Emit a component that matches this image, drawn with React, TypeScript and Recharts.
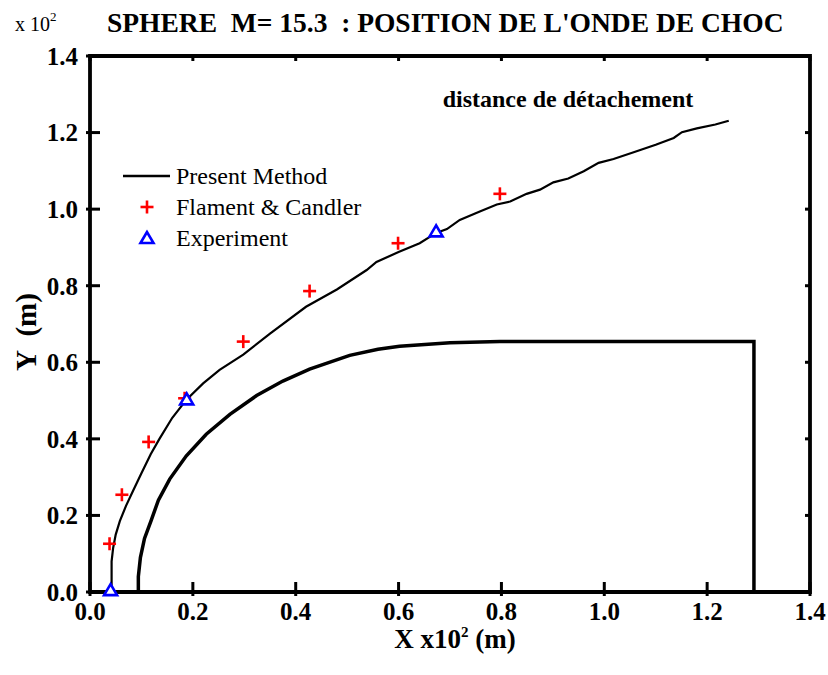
import React from 'react';
import {
  ComposedChart,
  Line,
  Scatter,
  XAxis,
  YAxis,
  Legend,
  ReferenceArea,
  ReferenceLine,
  Customized,
} from 'recharts';

// shock wave position (present method)
const SHOCK_X = [0.042, 0.042, 0.045, 0.05, 0.058, 0.07, 0.084, 0.1, 0.118, 0.135, 0.16, 0.188, 0.22, 0.252, 0.298, 0.35, 0.42, 0.48, 0.538, 0.557, 0.6, 0.641, 0.673, 0.694, 0.719, 0.758, 0.791, 0.817, 0.849, 0.875, 0.901, 0.93, 0.96, 0.989, 1.018, 1.06, 1.1, 1.135, 1.151, 1.18, 1.216, 1.242];
const SHOCK_Y = [0.0, 0.08, 0.115, 0.15, 0.185, 0.225, 0.265, 0.31, 0.36, 0.4, 0.455, 0.503, 0.545, 0.58, 0.62, 0.675, 0.745, 0.79, 0.841, 0.862, 0.888, 0.911, 0.938, 0.948, 0.972, 0.994, 1.012, 1.02, 1.04, 1.051, 1.07, 1.08, 1.099, 1.121, 1.131, 1.15, 1.168, 1.186, 1.201, 1.211, 1.221, 1.231];

// body contour
const BODY_X = [0.094, 0.094, 0.098, 0.106, 0.119, 0.133, 0.155, 0.187, 0.226, 0.272, 0.324, 0.375, 0.427, 0.505, 0.56, 0.602, 0.7, 0.797, 1.291, 1.291];
const BODY_Y = [0.0, 0.04, 0.09, 0.14, 0.187, 0.24, 0.295, 0.355, 0.412, 0.464, 0.513, 0.551, 0.582, 0.618, 0.634, 0.642, 0.651, 0.654, 0.654, 0.0];

// Flament & Candler
const FC_X = [0.038, 0.062, 0.114, 0.184, 0.298, 0.427, 0.599, 0.797];
const FC_Y = [0.126, 0.254, 0.392, 0.506, 0.654, 0.786, 0.911, 1.04];

// Experiment
const EXP_X = [0.04, 0.188, 0.673];
const EXP_Y = [0.005, 0.503, 0.942];

const X_TICKS = [0, 0.2, 0.4, 0.6, 0.8, 1.0, 1.2, 1.4];
const Y_TICKS = [0, 0.2, 0.4, 0.6, 0.8, 1.0, 1.2, 1.4];

const SERIES_NAMES = ['Present Method', 'Flament & Candler', 'Experiment'];

const zip = (xs: number[], ys: number[]) => xs.map((x, i) => ({ x, y: ys[i] }));
const shockData = zip(SHOCK_X, SHOCK_Y);
const bodyData = zip(BODY_X, BODY_Y);
const fcData = zip(FC_X, FC_Y);
const expData = zip(EXP_X, EXP_Y);

const SERIF = "'Liberation Serif', 'Times New Roman', serif";
const tickFont = { fill: '#000', fontSize: 25, fontWeight: 700, fontFamily: SERIF };

const Plus = ({ cx, cy }: any) => (
  <g>
    <line x1={cx - 6.5} x2={cx + 6.5} y1={cy} y2={cy} stroke="#ff0000" strokeWidth={2.6} />
    <line x1={cx} x2={cx} y1={cy - 6.5} y2={cy + 6.5} stroke="#ff0000" strokeWidth={2.6} />
  </g>
);

const Tri = ({ cx, cy }: any) => (
  <polygon
    points={`${cx},${cy - 6} ${cx - 6.5},${cy + 5} ${cx + 6.5},${cy + 5}`}
    fill="#fff"
    stroke="#0000ff"
    strokeWidth={2.6}
  />
);

// tick marks: long inward + short outward on bottom/left, short inward on top/right
const XTickMark = (p: any) => {
  const x = p.x1;
  const bottom = Math.max(p.y1, p.y2);
  const top = Math.min(p.y1, p.y2);
  return (
    <g>
      <line x1={x} x2={x} y1={bottom - 10} y2={bottom + 4} stroke="#000" strokeWidth={3} />
      <line x1={x} x2={x} y1={top} y2={top + 5} stroke="#000" strokeWidth={3} />
    </g>
  );
};

const YTickMark = (p: any) => {
  const y = p.y1;
  const left = Math.min(p.x1, p.x2);
  const right = Math.max(p.x1, p.x2);
  return (
    <g>
      <line x1={left - 4} x2={left + 10} y1={y} y2={y} stroke="#000" strokeWidth={3} />
      <line x1={right - 5} x2={right} y1={y} y2={y} stroke="#000" strokeWidth={3} />
    </g>
  );
};

const LegendBox = ({ payload }: any) => {
  const items = SERIES_NAMES.map((n) => (payload || []).find((p: any) => p.value === n)).filter(Boolean);
  return (
    <svg width={270} height={95}>
      {items.map((p: any, i: number) => {
        const cy = 14 + i * 31;
        let mark;
        if (i === 0) mark = <line x1={2} x2={49} y1={cy} y2={cy} stroke="#000" strokeWidth={2.5} />;
        else if (i === 1) mark = <Plus cx={26} cy={cy} />;
        else mark = <Tri cx={26} cy={cy} />;
        return (
          <g key={p.value}>
            {mark}
            <text x={55} y={cy} dy="0.35em" style={{ fontFamily: SERIF, fontSize: 24, fill: '#000' }}>
              {p.value}
            </text>
          </g>
        );
      })}
    </svg>
  );
};

const Titles = () => (
  <g style={{ fontFamily: SERIF, fill: '#000' }}>
    <text x={15} y={31} style={{ fontSize: 20 }}>
      x 10
      <tspan dy={-10} style={{ fontSize: 13 }}>2</tspan>
    </text>
    <text x={107} y={32} style={{ fontSize: 27.5, fontWeight: 700, whiteSpace: 'pre' }}>
      {'SPHERE  M= 15.3  : POSITION DE L\'ONDE DE CHOC'}
    </text>
    <text x={568} y={107} textAnchor="middle" style={{ fontSize: 24, fontWeight: 700 }}>
      distance de détachement
    </text>
    <text x={455} y={648} textAnchor="middle" style={{ fontSize: 27, fontWeight: 700 }}>
      X x10
      <tspan dy={-11} style={{ fontSize: 15 }}>2</tspan>
      <tspan dy={11}> (m)</tspan>
    </text>
    <text
      x={0}
      y={0}
      transform="translate(36, 332) rotate(-90)"
      textAnchor="middle"
      style={{ fontSize: 29, fontWeight: 700, whiteSpace: 'pre' }}
    >
      {'Y  (m)'}
    </text>
  </g>
);

const fmt = (v: number) => Number(v).toFixed(1);

export default function App() {
  return (
    <div style={{ position: 'absolute', left: 0, top: 0, background: '#fff' }}>
      <ComposedChart width={828} height={675} margin={{ top: 56, right: 18, bottom: 0, left: 0 }}>
        <XAxis
          dataKey="x"
          type="number"
          domain={[0, 1.4]}
          ticks={X_TICKS}
          interval={0}
          height={83}
          axisLine={false}
          tickLine={false}
          tickSize={4}
          tickMargin={6}
          tick={tickFont}
          tickFormatter={fmt}
        />
        <YAxis
          dataKey="y"
          type="number"
          domain={[0, 1.4]}
          ticks={Y_TICKS}
          interval={0}
          width={90}
          axisLine={false}
          tickLine={false}
          tickSize={4}
          tickMargin={8}
          tick={tickFont}
          tickFormatter={fmt}
        />
        <ReferenceArea
          x1={0}
          x2={1.4}
          y1={0}
          y2={1.4}
          fill="none"
          fillOpacity={0}
          stroke="#000"
          strokeWidth={3.8}
          ifOverflow="visible"
        />
        {X_TICKS.map((t) => (
          <ReferenceLine key={'xt' + t} x={t} ifOverflow="visible" shape={XTickMark} />
        ))}
        {Y_TICKS.map((t) => (
          <ReferenceLine key={'yt' + t} y={t} ifOverflow="visible" shape={YTickMark} />
        ))}
        <Line
          data={bodyData}
          dataKey="y"
          name="Body"
          type="linear"
          stroke="#000"
          strokeWidth={3.5}
          dot={false}
          legendType="none"
          isAnimationActive={false}
        />
        <Line
          data={shockData}
          dataKey="y"
          name="Present Method"
          type="linear"
          stroke="#000"
          strokeWidth={2.2}
          dot={false}
          isAnimationActive={false}
        />
        <Scatter data={fcData} dataKey="y" name="Flament & Candler" fill="#ff0000" shape={<Plus />} isAnimationActive={false} />
        <Scatter data={expData} dataKey="y" name="Experiment" fill="#0000ff" shape={<Tri />} isAnimationActive={false} />
        <Legend
          layout="vertical"
          align="center"
          verticalAlign="middle"
          content={<LegendBox />}
          wrapperStyle={{ left: 121, top: 162, width: 270 }}
        />
        <Customized component={<Titles />} />
      </ComposedChart>
    </div>
  );
}
